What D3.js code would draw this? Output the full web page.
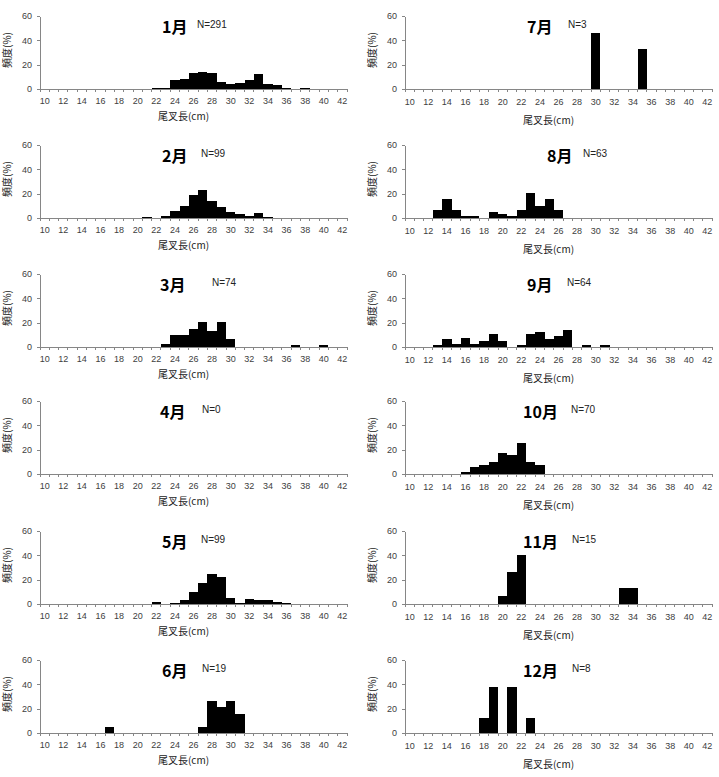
<!DOCTYPE html>
<html>
<head>
<meta charset="utf-8">
<script src="https://cdn.jsdelivr.net/npm/d3@7"></script>
<style>
  body { margin: 0; background: #fff; }
  .axis path, .axis line { stroke: #868686; shape-rendering: crispEdges; }
  .axis text { fill: #404040; font-family: "Liberation Sans", Arial, sans-serif; font-size: 9px; }
  .bar { fill: #000; shape-rendering: crispEdges; }
  .title { font-family: "Noto Sans CJK JP", sans-serif; font-weight: bold; font-size: 16px; fill: #000; }
  .count { font-family: "Liberation Sans", Arial, sans-serif; font-size: 10px; fill: #222; }
  .axisLabel { font-family: "Noto Sans CJK JP", sans-serif; font-size: 10px; fill: #222; }
</style>
</head>
<body>
<script>
(function(){
  // *************************************************** //
  // data
  // fork length classes (cm)
  var lengths = [10, 11, 12, 13, 14, 15, 16, 17, 18, 19, 20, 21, 22, 23, 24, 25, 26,
                 27, 28, 29, 30, 31, 32, 33, 34, 35, 36, 37, 38, 39, 40, 41, 42];
  // x tick labels (every other class)
  var tickLabels = ["10", "12", "14", "16", "18", "20", "22", "24", "26", "28", "30",
                    "32", "34", "36", "38", "40", "42"];
  // y tick values (%)
  var yTicks = [0, 20, 40, 60];

  var months = ["1月", "2月", "3月", "4月", "5月", "6月", "7月", "8月", "9月", "10月", "11月", "12月"];
  var counts = [291, 99, 74, 0, 99, 19, 3, 63, 64, 70, 15, 8];

  // frequency (%) per length class, 10cm .. 42cm
  var jan = [0,0,0,0,0,0,0,0,0,0,0,0, 1,1,7,8,13,14,13,6,4,5,7,12,4,3,1,0,1, 0,0,0,0];
  var feb = [0,0,0,0,0,0,0,0,0,0,0, 1,0,2,6,10,19,23,14,9,5,3,2,4,1, 0,0,0,0,0,0,0,0];
  var mar = [0,0,0,0,0,0,0,0,0,0,0,0,0, 2.7,9.5,9.5,14.9,20.3,13.5,20.3,6.8, 0,0,0,0,0,0, 1.4,0,0,1.4,0,0];
  var apr = [0,0,0,0,0,0,0,0,0,0,0,0,0,0,0,0,0,0,0,0,0,0,0,0,0,0,0,0,0,0,0,0,0];
  var may = [0,0,0,0,0,0,0,0,0,0,0,0, 2,0,1,3,10,17,25,22,5,1,4,3,3,2,1, 0,0,0,0,0,0];
  var jun = [0,0,0,0,0,0,0, 5.3, 0,0,0,0,0,0,0,0,0, 5.3,26.3,21.1,26.3,15.8, 0,0,0,0,0,0,0,0,0,0,0];
  var jul = [0,0,0,0,0,0,0,0,0,0,0,0,0,0,0,0,0,0,0,0, 46, 0,0,0,0, 33, 0,0,0,0,0,0,0];
  var aug = [0,0,0, 6.3,15.9,6.3,1.6,1.6,0,4.8,3.2,1.6,6.3,20.6,9.5,15.9,6.3, 0,0,0,0,0,0,0,0,0,0,0,0,0,0,0,0];
  var sep = [0,0,0, 1.6,6.3,2.3,7.8,2.3,4.7,10.9,4.7,0,1.6,10.9,12.5,6.3,9.4,14.1,0,1.6,0,1.6, 0,0,0,0,0,0,0,0,0,0,0];
  var oct = [0,0,0,0,0,0, 1.4,5.7,7.1,10,17.1,15.7,25.7,10,7.1, 0,0,0,0,0,0,0,0,0,0,0,0,0,0,0,0,0,0];
  var nov = [0,0,0,0,0,0,0,0,0,0, 6.7,26.7,40, 0,0,0,0,0,0,0,0,0,0, 13.3,13.3, 0,0,0,0,0,0,0,0];
  var dec = [0,0,0,0,0,0,0,0, 12.5,37.5,0,37.5,0,12.5, 0,0,0,0,0,0,0,0,0,0,0,0,0,0,0,0,0,0,0];
  var series = [jan, feb, mar, apr, may, jun, jul, aug, sep, oct, nov, dec];

  // *************************************************** //
  // layout
  var width = 719,
      height = 777;
  var colLeft = [40, 405],          // x of each column's y axis
      plotW = 307,
      plotH = 73,
      rowBase = [89, 218, 347, 474, 604, 733];   // y of the zero line per row
  // title / N label x positions per panel
  var titleX = [162, 162, 160, 160, 162, 162, 527, 547, 527, 523, 523, 523];
  var countX = [197, 201, 212, 202, 201, 202, 568, 583, 567, 571, 572, 572];

  var svg = d3.select("body")
    .append("svg")
    .attr("width", width)
    .attr("height", height);

  var x = d3.scaleBand()
    .domain(lengths)
    .range([0, plotW])
    .padding(0);

  var y = d3.scaleLinear()
    .domain([0, 60])
    .range([plotH, 0]);

  series.forEach(function(values, i){
    var col = i < 6 ? 0 : 1,
        row = i % 6;
    drawPanel(values, i, colLeft[col], rowBase[row] - plotH, col);
  });

  // *************************************************** //
  function drawPanel(values, i, left, top, col){
    var g = svg.append("g")
      .attr("transform", "translate(" + left + "," + top + ")");

    // bars
    g.selectAll(".bar")
      .data(values)
      .enter()
      .append("rect")
      .attr("class", "bar")
      .attr("x", function(d, k){ return x(lengths[k]); })
      .attr("width", x.bandwidth())
      .attr("y", function(d){ return y(d); })
      .attr("height", function(d){ return plotH - y(d); });

    // y axis
    g.append("g")
      .attr("class", "axis")
      .call(d3.axisLeft(y).tickValues(yTicks).tickSize(3).tickPadding(5).tickSizeOuter(0));

    // x axis: labels under the classes
    var xAxis = g.append("g")
      .attr("class", "axis")
      .attr("transform", "translate(0," + plotH + ")")
      .call(d3.axisBottom(x)
        .tickSize(0)
        .tickPadding(col == 0 ? 9 : 10)
        .tickFormat(function(d){ return tickLabels.indexOf(String(d)) >= 0 ? d : ""; }));

    // small tick marks on the class boundaries
    var bounds = lengths.map(function(d){ return x(d); }).concat([plotW]);
    xAxis.selectAll(".bound")
      .data(bounds)
      .enter()
      .append("line")
      .attr("class", "bound")
      .attr("x1", function(d){ return d; })
      .attr("x2", function(d){ return d; })
      .attr("y1", 0)
      .attr("y2", 3);

    // axis titles
    g.append("text")
      .attr("class", "axisLabel")
      .attr("text-anchor", "middle")
      .attr("x", plotW / 2 - 10)
      .attr("y", plotH + (col == 0 ? 31 : 35))
      .text("尾叉長(cm)");

    g.append("text")
      .attr("class", "axisLabel")
      .attr("text-anchor", "middle")
      .attr("transform", "translate(-33," + (plotH - 39) + ") rotate(-90)")
      .attr("dy", "0.35em")
      .text("頻度(%)");

    // month and sample size
    svg.append("text")
      .attr("class", "title")
      .attr("x", titleX[i])
      .attr("y", top + plotH - 56)
      .text(months[i]);

    svg.append("text")
      .attr("class", "count")
      .attr("x", countX[i])
      .attr("y", top + plotH - 61)
      .text("N=" + counts[i]);
  };

})();
</script>
</body>
</html>
